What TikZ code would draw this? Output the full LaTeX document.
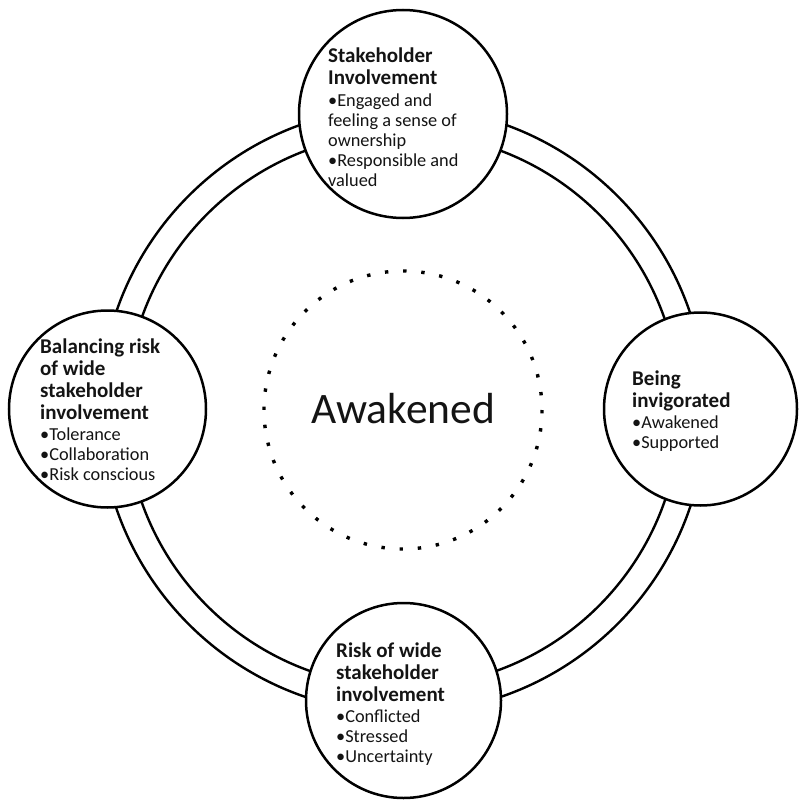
\documentclass[tikz,border=0pt]{standalone}
\usepackage{fontspec}
\setmainfont{Carlito}
\newcommand\hd[1]{{\fontsize{21}{20}\selectfont\bfseries #1}}
\tikzset{
  bubble/.style={circle, draw=black, line width=2.5pt, fill=white, inner sep=0pt},
  ringline/.style={draw=black, line width=2.4pt},
  dotring/.style={draw=black, line width=3.4pt, dash pattern=on 3.4pt off 14.8pt},
  txt/.style={align=left, inner sep=0pt, anchor=north west, font=\fontsize{18.3}{20}\selectfont, text=black!92},
  bigtxt/.style={inner sep=0pt, anchor=base, font=\fontsize{43.5}{50}\selectfont, text=black!92}
}
\begin{document}
\begin{tikzpicture}[x=1pt,y=-1pt]
\useasboundingbox (0,0) rectangle (800,805);
\coordinate (c) at (403,410);
\draw[ringline] (c) circle[radius=303];
\draw[ringline] (c) circle[radius=277];
\draw[dotring] (c) circle[radius=139];
\node[bigtxt] (aw) at (403,423) {Awakened};
\node[bubble, minimum size=208pt] (stake) at (403,114) {};
\node[bubble, minimum size=197pt] (bal) at (107.5,409) {};
\node[bubble, minimum size=193pt] (inv) at (700.5,409) {};
\node[bubble, minimum size=195pt] (risk) at (403.5,700.5) {};
\node[txt] (staket) at (328,47.5) {\hd{Stakeholder}\\[2pt]\hd{Involvement}\\[2pt]•Engaged and\\feeling a sense of\\ownership\\•Responsible and\\valued};
\node[txt] (balt) at (40,338.5) {\hd{Balancing risk}\\[2pt]\hd{of wide}\\[2pt]\hd{stakeholder}\\[2pt]\hd{involvement}\\[1pt]•Tolerance\\•Collaboration\\•Risk conscious};
\node[txt] (invt) at (632,371) {\hd{Being}\\[2pt]\hd{invigorated}\\[1pt]•Awakened\\•Supported};
\node[txt] (riskt) at (336,642.5) {\hd{Risk of wide}\\[2pt]\hd{stakeholder}\\[2pt]\hd{involvement}\\[1pt]•Conflicted\\•Stressed\\•Uncertainty};
\end{tikzpicture}
\end{document}
